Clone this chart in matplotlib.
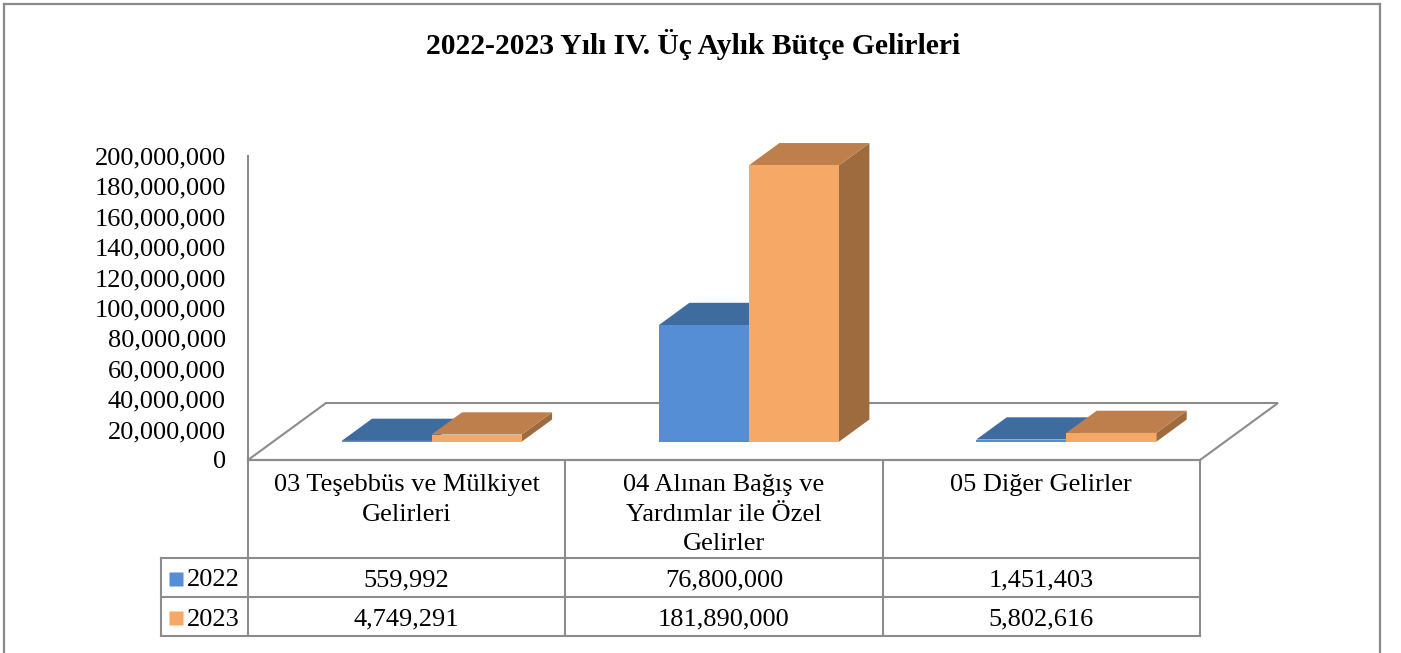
import matplotlib
matplotlib.use('Agg')
from matplotlib import pyplot as plt
from matplotlib.patches import Polygon
from matplotlib.lines import Line2D
from matplotlib.ticker import FuncFormatter

# data
categories = ['03 Teşebbüs ve Mülkiyet\nGelirleri',
              '04 Alınan Bağış ve\nYardımlar ile Özel\nGelirler',
              '05 Diğer Gelirler']
years = ['2022', '2023']
values_2022 = [559992, 76800000, 1451403]
values_2023 = [4749291, 181890000, 5802616]
y_ticks = list(range(0, 200000001, 20000000))

title = '2022-2023 Yılı IV. Üç Aylık Bütçe Gelirleri'

front_cols = ['#558ED5', '#F6A866']
top_cols = ['#3F6C9F', '#BE7F4D']
side_cols = ['#34598A', '#9E6B3E']
grid_col = '#8c8c8c'
font = 'Liberation Serif'

W, H = 1401, 653
fig = plt.figure(figsize=(W / 100, H / 100), dpi=100)


def fx(px):
    return px / W


def fy(py):
    return 1 - py / H


# outer frame
for xs, ys in [((4, 4), (4, 660)), ((4, 1380), (4, 4)), ((1380, 1380), (4, 660))]:
    fig.add_artist(Line2D([fx(x) for x in xs], [fy(y) for y in ys], color='#8a8a8a', lw=1.6))

fig.text(fx(693), fy(45), title, ha='center', va='center', fontsize=21.3,
         fontweight='bold', family=font)

# main 3d-ish plot area
ymax = 200000000
cat_px = (1200 - 248) / 3
DX = 78 / cat_px            # floor depth in category units
DY = 57 / 304 * ymax        # floor depth in value units
ax = fig.add_axes([fx(248), fy(460), fx(1278 - 248), 304 / H])
ax.set_xlim(0, 3 + DX)
ax.set_ylim(0, ymax)
for s in ['top', 'right', 'bottom']:
    ax.spines[s].set_visible(False)
ax.spines['left'].set_color(grid_col)
ax.spines['left'].set_linewidth(1.5)
ax.set_xticks([])
ax.set_yticks(y_ticks)
ax.yaxis.set_major_formatter(FuncFormatter(lambda v, p: f'{int(v):,}'))
ax.tick_params(axis='y', length=0, pad=16, labelsize=19)
for lab in ax.get_yticklabels():
    lab.set_family(font)

# floor
ax.add_patch(Polygon([(0, 0), (3, 0), (3 + DX, DY), (DX, DY)], closed=True,
                     fill=False, edgecolor=grid_col, lw=1.5, clip_on=False))

bar_w = 90 / cat_px
f0 = 0.32   # front position of bars (fraction of floor depth)
bd = 0.39   # bar depth fraction

for i in range(len(categories)):
    for j, vals in enumerate([values_2022, values_2023]):
        v = vals[i]
        xl = i + 0.5 - bar_w + j * bar_w + f0 * DX
        xr = xl + bar_w
        b = f0 * DY
        ox, oy = bd * DX, bd * DY
        front = [(xl, b), (xr, b), (xr, b + v), (xl, b + v)]
        top = [(xl, b + v), (xr, b + v), (xr + ox, b + v + oy), (xl + ox, b + v + oy)]
        side = [(xr, b), (xr + ox, b + oy), (xr + ox, b + v + oy), (xr, b + v)]
        ax.add_patch(Polygon(side, closed=True, fc=side_cols[j], ec='none', clip_on=False))
        ax.add_patch(Polygon(top, closed=True, fc=top_cols[j], ec='none', clip_on=False))
        ax.add_patch(Polygon(front, closed=True, fc=front_cols[j], ec='none', clip_on=False))

# data table
leg_x = -(248 - 161) / cat_px
tx = fig.add_axes([fx(161), fy(636), fx(1200 - 161), 176 / H])
tx.set_xlim(leg_x, 3)
tx.set_ylim(4.5, 0)
tx.axis('off')
kw = dict(color=grid_col, lw=1.5, clip_on=False)
for k in range(4):
    tx.plot([k, k], [0, 4.5], **kw)
tx.plot([leg_x, leg_x], [2.5, 4.5], **kw)
for yy in [2.5, 3.5, 4.5]:
    tx.plot([leg_x, 3], [yy, yy], **kw)
tx.plot([0, 3], [0, 0], **kw)

for i, c in enumerate(categories):
    tx.text(i + 0.5, 0.36, c, ha='center', va='top', fontsize=19, family=font,
            linespacing=1.45)
for j, vals in enumerate([values_2022, values_2023]):
    yy = 3.08 + j
    tx.plot([(176 - 248) / cat_px], [yy - 0.05], marker='s', ms=10, color=front_cols[j],
            mec='none', clip_on=False)
    tx.text((187 - 248) / cat_px, yy, years[j], ha='left', va='center',
            fontsize=19, family=font)
    for i, v in enumerate(vals):
        tx.text(i + 0.5, yy, f'{v:,}', ha='center', va='center', fontsize=19, family=font)

fig.savefig('out.png', dpi=100)
